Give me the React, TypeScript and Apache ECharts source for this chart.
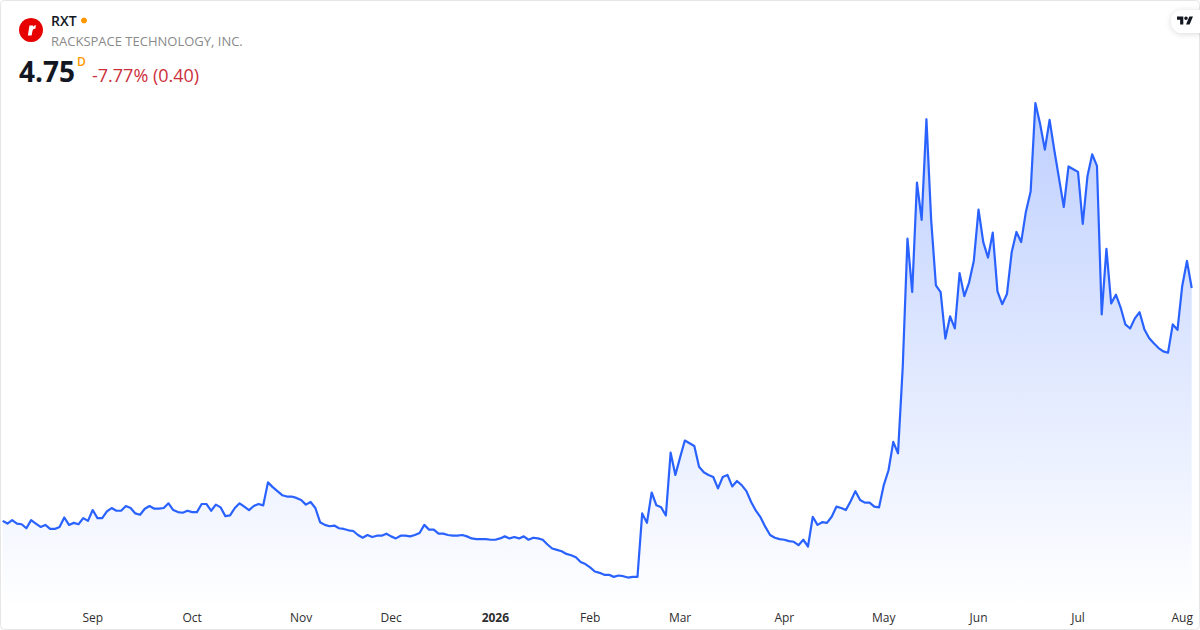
import React, { useEffect, useRef } from "react";
import * as echarts from "echarts";

const closes = [
  1.30,1.26,1.31,1.26,1.25,1.19,1.31,1.26,1.21,1.24,1.18,1.18,1.21,1.35,1.24,1.27,1.25,1.34,1.30,1.46,
  1.34,1.34,1.44,1.49,1.45,1.45,1.52,1.49,1.41,1.39,1.48,1.52,1.48,1.48,1.49,1.56,1.46,1.43,1.42,1.45,
  1.43,1.43,1.55,1.55,1.45,1.54,1.50,1.37,1.38,1.49,1.56,1.51,1.46,1.52,1.55,1.53,1.87,1.80,1.74,1.68,
  1.66,1.66,1.64,1.61,1.54,1.58,1.49,1.28,1.24,1.22,1.23,1.19,1.18,1.16,1.15,1.09,1.05,1.09,1.06,1.08,
  1.08,1.11,1.07,1.04,1.08,1.08,1.07,1.09,1.12,1.24,1.17,1.17,1.11,1.11,1.09,1.08,1.08,1.09,1.07,1.04,
  1.03,1.03,1.03,1.02,1.02,1.04,1.07,1.04,1.06,1.04,1.07,1.02,1.05,1.04,1.02,0.95,0.89,0.87,0.85,0.81,
  0.79,0.76,0.69,0.66,0.61,0.55,0.53,0.50,0.50,0.47,0.49,0.48,0.46,0.47,0.47,1.41,1.27,1.72,1.53,1.50,
  1.38,2.31,1.98,2.24,2.49,2.45,2.41,2.10,2.02,1.98,1.95,1.78,1.95,1.98,1.81,1.89,1.83,1.74,1.58,1.45,
  1.35,1.21,1.09,1.05,1.03,1.02,1.00,0.99,0.94,1.02,0.92,1.36,1.24,1.28,1.27,1.36,1.51,1.49,1.46,1.59,
  1.74,1.61,1.57,1.57,1.51,1.50,1.83,2.05,2.47,2.30,3.58,5.48,4.69,6.31,5.76,7.25,5.76,4.79,4.69,4.00,
  4.33,4.15,4.97,4.63,4.83,5.15,5.91,5.43,5.20,5.57,4.70,4.51,4.66,5.28,5.58,5.43,5.88,6.18,7.49,7.18,
  6.80,7.24,6.79,6.37,5.95,6.55,6.51,6.47,5.70,6.41,6.73,6.56,4.36,5.33,4.52,4.65,4.46,4.21,4.15,4.30,
  4.39,4.14,4.01,3.93,3.86,3.81,3.79,4.21,4.13,4.78,5.15,4.75,
];
const tickLabels = ["Sep", "Oct", "Nov", "Dec", "2026", "Feb", "Mar", "Apr", "May", "Jun", "Jul", "Aug"];
const tickIndexes = [19, 40, 63, 82, 104, 124, 143, 165, 186, 206, 227, 249];
const categories = closes.map((_, i) => {
  const k = tickIndexes.indexOf(i);
  return k >= 0 ? tickLabels[k] : "";
});

const FONT = "'Open Sans', 'Noto Sans', sans-serif";

echarts.graphic.registerShape(
  "tvLogo",
  echarts.graphic.extendPath(
    "M14 22H7V11H0V4h14v18zM28 22h-8l7.5-18h8L28 22zM24 8a4 4 0 1 1-8 0a4 4 0 1 1 8 0z",
    {}
  ) as any
);
echarts.graphic.registerShape(
  "rLogo",
  echarts.graphic.extendPath(
    "M3 0H8.2L7.9 2.1C9 .6 10.4-.2 12-.2L11.2 4.6C9.2 4.4 7.6 5.3 7.2 7.6L6 14H.8z",
    {}
  ) as any
);

export default function App() {
  const ref = useRef<HTMLDivElement>(null);
  useEffect(() => {
    const chart = echarts.init(ref.current!, undefined, { renderer: "svg" });
    chart.setOption({
      animation: false,
      backgroundColor: "#ffffff",
      grid: { left: 2.7, right: 8.3, top: 1.1, bottom: 21.4 },
      xAxis: {
        type: "category",
        data: categories,
        boundaryGap: false,
        axisLine: { show: false },
        axisTick: { show: false },
        splitLine: { show: false },
        axisLabel: {
          interval: (i: number) => tickIndexes.includes(i),
          margin: 3,
          hideOverlap: false,
          fontFamily: FONT,
          fontSize: 12,
          color: "#2e2e2e",
          formatter: (v: string) => (v === "2026" ? `{b|${v}}` : v),
          rich: { b: { fontFamily: FONT, fontSize: 12, fontWeight: 700, color: "#2e2e2e" } },
        },
      },
      yAxis: { type: "value", min: 0, max: 9, show: false },
      series: [
        {
          type: "line",
          data: closes,
          showSymbol: false,
          symbol: "none",
          smooth: false,
          lineStyle: { color: "#2962FF", width: 2.2, join: "round" },
          areaStyle: {
            color: new echarts.graphic.LinearGradient(0, 0, 0, 1, [
              { offset: 0, color: "rgba(41,98,255,0.3)" },
              { offset: 1, color: "rgba(41,98,255,0)" },
            ]),
            opacity: 1,
          },
        },
      ],
      graphic: [
        { type: "rect", z: 50, shape: { x: 0.5, y: 0.5, width: 1199, height: 629, r: 4 }, style: { fill: "none", stroke: "#e6e6e6", lineWidth: 1 } },
        { type: "circle", z: 60, shape: { cx: 31, cy: 30, r: 12 }, style: { fill: "#e60000" } },
        { type: "rLogo", z: 61, x: 27.3, y: 25.5, scaleX: 0.72, scaleY: 0.72, style: { fill: "#ffffff" } },
        { type: "text", z: 60, x: 51, y: 20.5, style: { text: "RXT", fontFamily: FONT, fontSize: 14, fontWeight: 600, fill: "#131722", textVerticalAlign: "middle" } },
        { type: "circle", z: 60, shape: { cx: 84, cy: 20.5, r: 3 }, style: { fill: "#ff9800" } },
        { type: "text", z: 60, x: 51, y: 40.5, style: { text: "RACKSPACE TECHNOLOGY, INC.", fontFamily: FONT, fontSize: 13, fill: "#8a8a8a", textVerticalAlign: "middle" } },
        { type: "text", z: 60, x: 19, y: 71, style: { text: "4.75", fontFamily: FONT, fontSize: 28, fontWeight: 700, fill: "#131722", textVerticalAlign: "middle" } },
        { type: "text", z: 60, x: 77, y: 61.5, style: { text: "D", fontFamily: FONT, fontSize: 12, fontWeight: 600, fill: "#ff9800", textVerticalAlign: "middle" } },
        { type: "text", z: 60, x: 92, y: 74.5, style: { text: "-7.77% (0.40)", fontFamily: FONT, fontSize: 18, fill: "#cc2f3c", textVerticalAlign: "middle" } },
        {
          type: "rect", z: 70, shape: { x: 1171, y: 10, width: 40, height: 23, r: 11.5 },
          style: { fill: "#ffffff", shadowBlur: 6, shadowColor: "rgba(0,0,0,0.15)", shadowOffsetY: 1 },
        },
        { type: "tvLogo", z: 72, x: 1177, y: 14.7, scaleX: 0.45, scaleY: 0.45, style: { fill: "#131722" } },
      ],
    });
    return () => chart.dispose();
  }, []);
  return (
    <div style={{ position: "fixed", left: 0, top: 0, width: 1200, height: 630, background: "#fff" }}>
      <div ref={ref} style={{ width: 1200, height: 630 }} />
    </div>
  );
}
